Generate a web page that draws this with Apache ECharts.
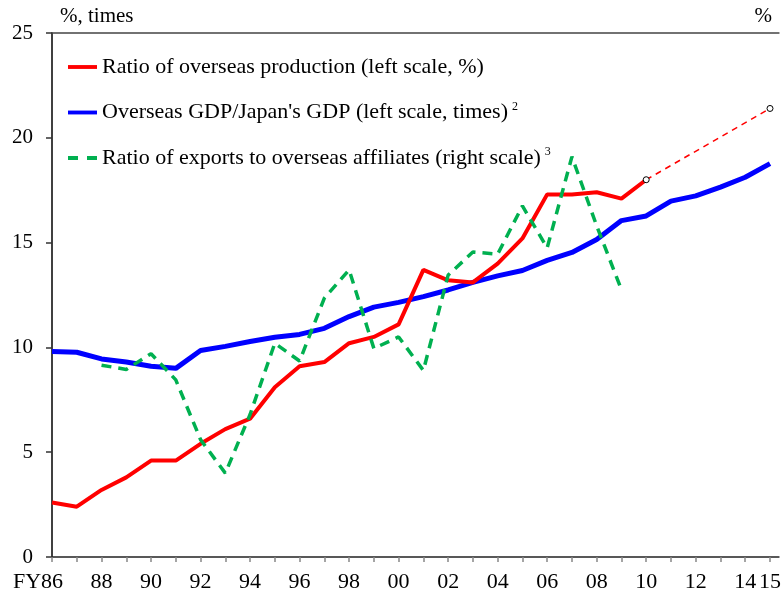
<!DOCTYPE html>
<html><head><meta charset="utf-8">
<script src="https://cdn.jsdelivr.net/npm/echarts@6/dist/echarts.min.js"></script>
<style>html,body{margin:0;padding:0;background:#fff}#c{width:784px;height:594px}</style>
</head><body><div id="c"></div>
<script>
// ---- data ----
const years = [1986,1987,1988,1989,1990,1991,1992,1993,1994,1995,1996,1997,1998,1999,2000,2001,2002,2003,2004,2005,2006,2007,2008,2009,2010,2011,2012,2013,2014,2015];
const tickLabelYears = [1986,1988,1990,1992,1994,1996,1998,2000,2002,2004,2006,2008,2010,2012,2014,2015];

const prodYears = [1986,1987,1988,1989,1990,1991,1992,1993,1994,1995,1996,1997,1998,1999,2000,2001,2002,2003,2004,2005,2006,2007,2008,2009,2010];
const prodValues = [2.6,2.4,3.2,3.8,4.6,4.6,5.4,6.1,6.6,8.1,9.1,9.3,10.2,10.5,11.1,13.7,13.2,13.1,14.0,15.2,17.3,17.3,17.4,17.1,18.0];

const projYears = [2010,2015];
const projValues = [18.0,21.4];

const gdpYears = years;
const gdpValues = [9.8,9.77,9.45,9.3,9.1,9.0,9.85,10.05,10.28,10.48,10.62,10.91,11.47,11.92,12.15,12.42,12.74,13.1,13.41,13.67,14.15,14.53,15.15,16.05,16.27,16.98,17.23,17.65,18.12,18.77];

const expYears = [1988,1989,1990,1991,1992,1993,1994,1995,1996,1997,1998,1999,2000,2001,2002,2003,2004,2005,2006,2007,2008,2009];
const expValues = [9.15,8.95,9.7,8.45,5.6,4.0,6.8,10.2,9.35,12.35,13.7,9.95,10.5,8.9,13.45,14.55,14.45,16.75,14.75,19.1,15.8,12.75];

const seriesNames = ["Ratio of overseas production (left scale, %)", "Overseas GDP/Japan's GDP (left scale, times)", "Ratio of exports to overseas affiliates (right scale)"];
const seriesSups = ["", "2", "3"];
const leftAxisName = "%, times";
const rightAxisName = "%";

// ---- chart ----
const FONT = "'Liberation Serif','Times New Roman',serif";
const pairs = (xs, ys) => xs.map((x, i) => [x, ys[i]]);
const RED = '#FF0000', BLUE = '#0000FF', GREEN = '#00B050';

const chart = echarts.init(document.getElementById('c'), null, {renderer: 'canvas'});
chart.setOption({
  animation: false,
  backgroundColor: '#fff',
  grid: {left: 52, right: 0, top: 33, bottom: 37, containLabel: false},
  legend: {
    orient: 'vertical', left: 68, top: 55, padding: 0,
    itemWidth: 29, itemHeight: 4, itemGap: 21.5,
    data: [
      {name: seriesNames[0], icon: 'path://M0,0H30V4H0Z', itemStyle: {color: RED}},
      {name: seriesNames[1], icon: 'path://M0,0H30V4H0Z', itemStyle: {color: BLUE}},
      {name: seriesNames[2], icon: 'path://M0,0H10V4H0Z M19,0H29V4H19Z', itemStyle: {color: GREEN}}
    ],
    formatter: function (name) {
      const i = seriesNames.indexOf(name);
      return seriesSups[i] ? '{t|' + name + '}{s|' + seriesSups[i] + '}' : '{t|' + name + '}';
    },
    textStyle: {
      fontFamily: FONT, fontSize: 22, color: '#000', lineHeight: 24,
      rich: {
        t: {fontFamily: FONT, fontSize: 22, color: '#000', lineHeight: 24},
        s: {fontFamily: FONT, fontSize: 12, color: '#000', padding: [0, 0, 12, 4]}
      }
    }
  },
  xAxis: [{
    type: 'value', min: 1986, max: 2015.36, position: 'bottom',
    axisLine: {show: true, onZero: false, lineStyle: {color: '#222', width: 1.5}},
    axisTick: {show: true, customValues: years, length: 5, lineStyle: {color: '#888', width: 1.5}},
    axisLabel: {
      customValues: tickLabelYears, margin: 14,
      fontFamily: FONT, fontSize: 22, color: '#000',
      formatter: v => v === 1986 ? '{n|FY86}{p|\u00a0}' : String(v % 100).padStart(2, '0'),
      rich: {
        n: {fontFamily: FONT, fontSize: 22, color: '#000'},
        p: {fontFamily: FONT, fontSize: 22, width: 28}
      }
    },
    splitLine: {show: false}
  }, {
    type: 'value', min: 1986, max: 2015.36, position: 'top',
    axisLine: {show: true, onZero: false, lineStyle: {color: '#444', width: 1.5}},
    axisTick: {show: false}, axisLabel: {show: false}, splitLine: {show: false}
  }],
  yAxis: [{
    type: 'value', min: 0, max: 25, interval: 5, position: 'left',
    name: leftAxisName, nameLocation: 'end', nameGap: 6,
    nameTextStyle: {fontFamily: FONT, fontSize: 21, color: '#000', align: 'left', padding: [0, 0, 0, 8]},
    axisLine: {show: true, lineStyle: {color: '#000', width: 1.5}},
    axisTick: {show: true, length: 6, lineStyle: {color: '#333', width: 1.5}},
    axisLabel: {margin: 19, fontFamily: FONT, fontSize: 21, color: '#000'},
    splitLine: {show: false}
  }, {
    type: 'value', min: 0, max: 25, interval: 5, position: 'right',
    name: rightAxisName, nameLocation: 'end', nameGap: 6,
    nameTextStyle: {fontFamily: FONT, fontSize: 21, color: '#000', align: 'right', padding: [0, 7, 0, 0]},
    axisLine: {show: false}, axisTick: {show: false}, axisLabel: {show: false}, splitLine: {show: false}
  }],
  series: [{
    name: seriesNames[1], type: 'line', xAxisIndex: 0, yAxisIndex: 0,
    data: pairs(gdpYears, gdpValues), symbol: 'none',
    lineStyle: {color: BLUE, width: 5}, itemStyle: {color: BLUE}, z: 2
  }, {
    name: seriesNames[0], type: 'line', xAxisIndex: 0, yAxisIndex: 0,
    data: pairs(prodYears, prodValues), symbol: 'none',
    lineStyle: {color: RED, width: 4}, itemStyle: {color: RED}, z: 3
  }, {
    name: seriesNames[2], type: 'line', xAxisIndex: 0, yAxisIndex: 1,
    data: pairs(expYears, expValues), symbol: 'none',
    lineStyle: {color: GREEN, width: 3.5, type: [10, 7]}, itemStyle: {color: GREEN}, z: 4
  }, {
    name: 'projection', type: 'line', xAxisIndex: 0, yAxisIndex: 0,
    data: pairs(projYears, projValues), symbol: 'circle', symbolSize: 6, showSymbol: true,
    lineStyle: {color: RED, width: 1.5, type: [6, 5]},
    itemStyle: {color: '#fff', borderColor: '#000', borderWidth: 1}, z: 5
  }]
});
</script>
</body></html>
